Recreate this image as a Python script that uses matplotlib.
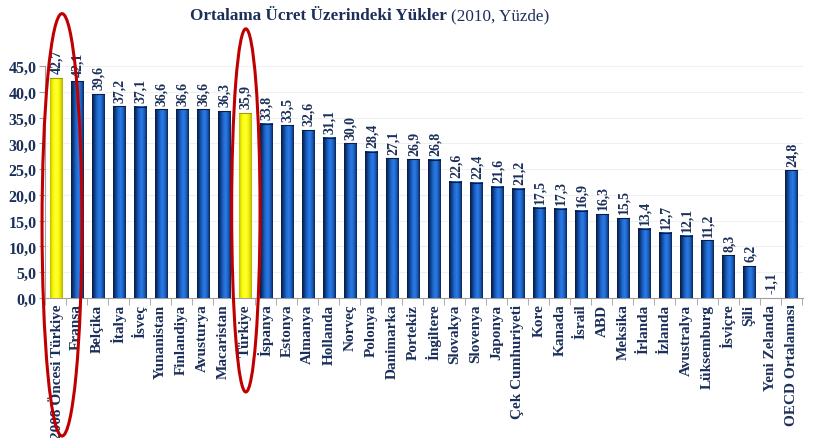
import matplotlib
matplotlib.use("Agg")
import matplotlib.pyplot as plt
import numpy as np
from matplotlib.colors import LinearSegmentedColormap
from matplotlib.patches import Ellipse

countries = ["2008 Öncesi Türkiye", "Fransa", "Belçika", "İtalya", "İsveç",
             "Yunanistan", "Finlandiya", "Avusturya", "Macaristan", "Türkiye",
             "İspanya", "Estonya", "Almanya", "Hollanda", "Norveç", "Polonya",
             "Danimarka", "Portekiz", "İngiltere", "Slovakya", "Slovenya",
             "Japonya", "Çek Cumhuriyeti", "Kore", "Kanada", "İsrail", "ABD",
             "Meksika", "İrlanda", "İzlanda", "Avustralya", "Lüksemburg",
             "İsviçre", "Şili", "Yeni Zelanda", "OECD Ortalaması"]
values = [42.7, 42.1, 39.6, 37.2, 37.1, 36.6, 36.6, 36.6, 36.3, 35.9,
          33.8, 33.5, 32.6, 31.1, 30.0, 28.4, 27.1, 26.9, 26.8, 22.6,
          22.4, 21.6, 21.2, 17.5, 17.3, 16.9, 16.3, 15.5, 13.4, 12.7,
          12.1, 11.2, 8.3, 6.2, -1.1, 24.8]
highlight = ["2008 Öncesi Türkiye", "Türkiye"]
yticks = [0, 5, 10, 15, 20, 25, 30, 35, 40, 45]

NAVY = "#1b2f5a"
plt.rcParams['font.family'] = ['Liberation Serif', 'DejaVu Serif']

blue_cm = LinearSegmentedColormap.from_list(
    "b", ["#08193a", "#0f3f8c", "#1f68cc", "#2a7ae6", "#1c5fc0", "#0a2553"])
yellow_cm = LinearSegmentedColormap.from_list(
    "y", ["#bfbf00", "#f5f500", "#ffff30", "#ffff20", "#e8e800", "#b0b000"])

fig = plt.figure(figsize=(8.14, 4.39), dpi=100)
ax = fig.add_axes([0.055, 0.319, 0.931, 0.528])

x = np.arange(len(countries))
bars = ax.bar(x, values, width=0.58, color="none", edgecolor="none", zorder=3)

grad = np.linspace(0, 1, 64).reshape(1, -1)
for name, b in zip(countries, bars):
    cm = yellow_cm if name in highlight else blue_cm
    x0, w, h = b.get_x(), b.get_width(), b.get_height()
    im = ax.imshow(grad, cmap=cm, aspect="auto", zorder=3,
                   extent=[x0, x0 + w, min(0, h), max(0, h)])
    im.set_clip_path(b)
    im.set_clip_box(ax.bbox)
    if h > 0:
        ax.plot([x0, x0 + w], [h, h],
                color="#0a1f44" if name not in highlight else "#a0a000",
                lw=0.8, zorder=4)

for xi, v in zip(x, values):
    ax.text(xi + 0.05, max(v, 0) + 0.9, f"{v:.1f}".replace(".", ","),
            rotation=90, ha="center", va="bottom", fontsize=10,
            fontweight="bold", color=NAVY, clip_on=False)

ax.set_xlim(-0.52, 35.55)
ax.set_ylim(0, 45)
ax.set_yticks(yticks)
ax.set_yticklabels([f"{t:.1f}".replace(".", ",") for t in yticks],
                   fontsize=11.5, fontweight="bold", color=NAVY)
ax.set_xticks(x)
ax.set_xticklabels(countries, rotation=90, fontsize=11, fontweight="bold",
                   color=NAVY, va="top", ha="center")
ax.tick_params(axis="x", length=0, pad=4)
ax.set_xticks(np.arange(-0.5, len(countries), 1), minor=True)
ax.tick_params(axis="x", which="minor", length=5, color="#a0a0a0")
ax.tick_params(axis="y", length=4, color="#a0a0a0", pad=2)

for s in ["top", "right"]:
    ax.spines[s].set_visible(False)
for s in ["left", "bottom"]:
    ax.spines[s].set_color("#a0a0a0")
ax.yaxis.grid(True, color="#f0f0f0", lw=0.8, zorder=0)
ax.set_axisbelow(True)

# red ellipses
ax.add_patch(Ellipse((0.3, 14.2), 1.9, 82, fill=False, ec="#c00000", lw=2.2,
                     clip_on=False, zorder=6))
ax.add_patch(Ellipse((9.05, 17.0), 1.35, 70.5, fill=False, ec="#c00000", lw=2.2,
                     clip_on=False, zorder=6))

# title: bold part + normal part
t1 = fig.text(190 / 814, 1 - 16 / 439, "Ortalama Ücret Üzerindeki Yükler",
              fontsize=12.3, fontweight="bold", color=NAVY, ha="left", va="center")
fig.canvas.draw()
bb = t1.get_window_extent()
fig.text((bb.x1 + 4) / fig.bbox.width, 1 - 16 / 439, "(2010, Yüzde)",
         fontsize=12.3, color=NAVY, ha="left", va="center")

fig.savefig("out.png", dpi=100)
